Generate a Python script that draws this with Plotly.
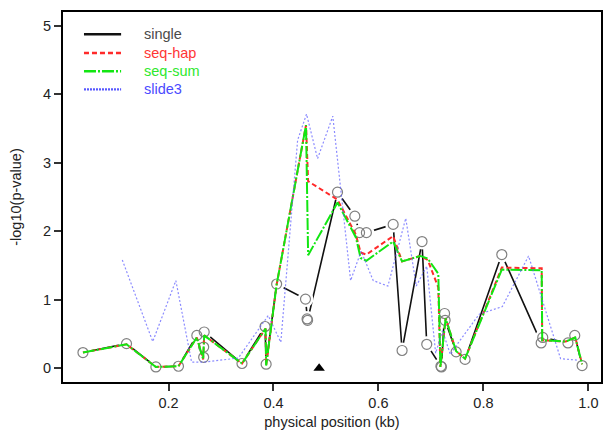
import plotly.graph_objects as go

# ---- data ----
single_x = [0.037, 0.120, 0.176, 0.219, 0.254, 0.267, 0.267, 0.268, 0.340, 0.384, 0.386, 0.406,
            0.461, 0.464, 0.465, 0.522, 0.555, 0.564, 0.577, 0.628, 0.645, 0.683, 0.692, 0.719,
            0.720, 0.726, 0.727, 0.748, 0.765, 0.835, 0.910, 0.913, 0.961, 0.974, 0.988]
single_y = [0.23, 0.36, 0.02, 0.03, 0.48, 0.16, 0.31, 0.53, 0.07, 0.61, 0.06, 1.23,
            1.01, 0.72, 0.70, 2.57, 2.22, 1.98, 1.98, 2.10, 0.26, 1.85, 0.35, 0.03,
            0.02, 0.80, 0.70, 0.24, 0.13, 1.66, 0.37, 0.45, 0.37, 0.48, 0.04]

seqsum_x = [0.037, 0.120, 0.176, 0.219, 0.254, 0.266, 0.268, 0.340, 0.385, 0.386, 0.406, 0.462,
            0.466, 0.522, 0.557, 0.566, 0.577, 0.628, 0.645, 0.680, 0.694, 0.714, 0.718, 0.728,
            0.748, 0.765, 0.835, 0.911, 0.912, 0.957, 0.975, 0.988]
seqsum_y = [0.23, 0.35, 0.02, 0.03, 0.45, 0.13, 0.48, 0.07, 0.58, 0.04, 1.22, 3.55,
            1.65, 2.42, 1.91, 1.61, 1.57, 1.85, 1.56, 1.64, 1.60, 1.38, 0.02, 0.73,
            0.25, 0.14, 1.44, 1.43, 0.41, 0.39, 0.45, 0.06]

seqhap_x = [0.037, 0.120, 0.176, 0.219, 0.254, 0.266, 0.268, 0.340, 0.385, 0.386, 0.406, 0.462,
            0.466, 0.522, 0.557, 0.566, 0.577, 0.628, 0.645, 0.680, 0.694, 0.714, 0.718, 0.728,
            0.748, 0.765, 0.835, 0.911, 0.912, 0.957, 0.975, 0.988]
seqhap_y = [0.23, 0.35, 0.02, 0.03, 0.45, 0.13, 0.48, 0.07, 0.58, 0.04, 1.22, 3.55,
            2.73, 2.46, 1.95, 1.69, 1.66, 1.93, 1.56, 1.64, 1.58, 1.18, 0.02, 0.73,
            0.25, 0.14, 1.47, 1.46, 0.41, 0.39, 0.45, 0.06]

slide3_x = [0.112, 0.170, 0.214, 0.244, 0.268, 0.333, 0.390, 0.414, 0.446, 0.463, 0.484, 0.513,
            0.547, 0.567, 0.590, 0.618, 0.652, 0.672, 0.692, 0.709, 0.722, 0.737, 0.750, 0.792,
            0.836, 0.886, 0.947, 0.978]
slide3_y = [1.58, 0.39, 1.28, 0.09, 0.09, 0.15, 0.77, 0.38, 3.33, 3.71, 3.06, 3.68,
            1.28, 1.71, 1.28, 1.20, 2.19, 1.20, 1.49, 0.22, 0.55, 0.20, 0.35, 0.79,
            0.90, 1.64, 0.14, 0.12]

marker_x = [0.487]
marker_y = [0.0]

legend_names = ["single", "seq-hap", "seq-sum", "slide3"]
x_ticks = [0.2, 0.4, 0.6, 0.8, 1.0]
x_ticktext = ["0.2", "0.4", "0.6", "0.8", "1.0"]
y_ticks = [0, 1, 2, 3, 4, 5]

# ---- styles ----
C_SINGLE = "#111111"
C_CIRC = "#808080"
C_HAP = "#ff2a2a"
C_SUM = "#12e612"
C_SLIDE = "rgba(90,90,255,0.7)"
FONT = "Liberation Sans, Arial, sans-serif"
FS = 14.5

fig = go.Figure()
fig.add_trace(go.Scatter(x=single_x, y=single_y, mode="lines",
                         line=dict(color=C_SINGLE, width=1.6), showlegend=False, hoverinfo="skip"))
# gaps around points (R type='b')
fig.add_trace(go.Scatter(x=single_x, y=single_y, mode="markers",
                         marker=dict(size=16, color="white", line=dict(width=0)),
                         showlegend=False, hoverinfo="skip"))
fig.add_trace(go.Scatter(x=single_x, y=single_y, mode="markers",
                         marker=dict(size=10, symbol="circle-open", color=C_CIRC, line=dict(width=1.2)),
                         showlegend=False))
fig.add_trace(go.Scatter(x=seqhap_x, y=seqhap_y, mode="lines",
                         line=dict(color=C_HAP, width=2, dash="5px,3px"), showlegend=False))
fig.add_trace(go.Scatter(x=seqsum_x, y=seqsum_y, mode="lines",
                         line=dict(color=C_SUM, width=2, dash="12px,2px,2px,2px"), showlegend=False))
fig.add_trace(go.Scatter(x=slide3_x, y=slide3_y, mode="lines",
                         line=dict(color=C_SLIDE, width=1.2, dash="2px,2px"), showlegend=False))
fig.add_trace(go.Scatter(x=marker_x, y=marker_y, mode="markers",
                         marker=dict(symbol="triangle-up", size=10, color="black"),
                         showlegend=False))

# ---- manual legend ----
leg_colors = [C_SINGLE, C_HAP, C_SUM, "rgba(70,70,255,0.9)"]
leg_text_colors = ["#4a4a4a", "#ff3535", "#2ee82e", "#4a4aff"]
leg_dash = ["solid", "5px,3px", "12px,2px,2px,2px", "2px,1px"]
leg_y = [0.940, 0.889, 0.840, 0.791]
for name, lc, tc, d, yy in zip(legend_names, leg_colors, leg_text_colors, leg_dash, leg_y):
    fig.add_shape(type="line", xref="paper", yref="paper", x0=0.039, x1=0.108, y0=yy, y1=yy,
                  line=dict(color=lc, width=2.4, dash=d))
    fig.add_annotation(xref="paper", yref="paper", x=0.147, y=yy, text=name, showarrow=False,
                       xanchor="left", yanchor="middle", font=dict(family=FONT, size=FS, color=tc))

fig.update_layout(
    width=603, height=438,
    margin=dict(l=63, r=2, t=12, b=56),
    paper_bgcolor="white", plot_bgcolor="white",
    font=dict(family=FONT, size=FS, color="#222222"),
    showlegend=False,
)
fig.update_xaxes(range=[-0.001, 1.024], tickvals=x_ticks, ticktext=x_ticktext,
                 showgrid=False, zeroline=False, showline=True, mirror=True,
                 linecolor="black", linewidth=2, ticks="outside", ticklen=7, tickwidth=1.5,
                 tickcolor="#333", tickfont=dict(size=FS), automargin=False,
                 title=dict(text="physical position (kb)", font=dict(size=FS), standoff=6))
fig.update_yaxes(range=[-0.2, 5.2], tickvals=y_ticks,
                 showgrid=False, zeroline=False, showline=True, mirror=True,
                 linecolor="black", linewidth=2, ticks="outside", ticklen=7, tickwidth=1.5,
                 tickcolor="#333", tickfont=dict(size=FS), automargin=False,
                 title=dict(text="-log10(p-value)", font=dict(size=FS), standoff=18))

fig.write_html("out.html", config={"displayModeBar": False},
               post_script="document.body.style.margin='0';document.body.style.overflow='hidden';")
